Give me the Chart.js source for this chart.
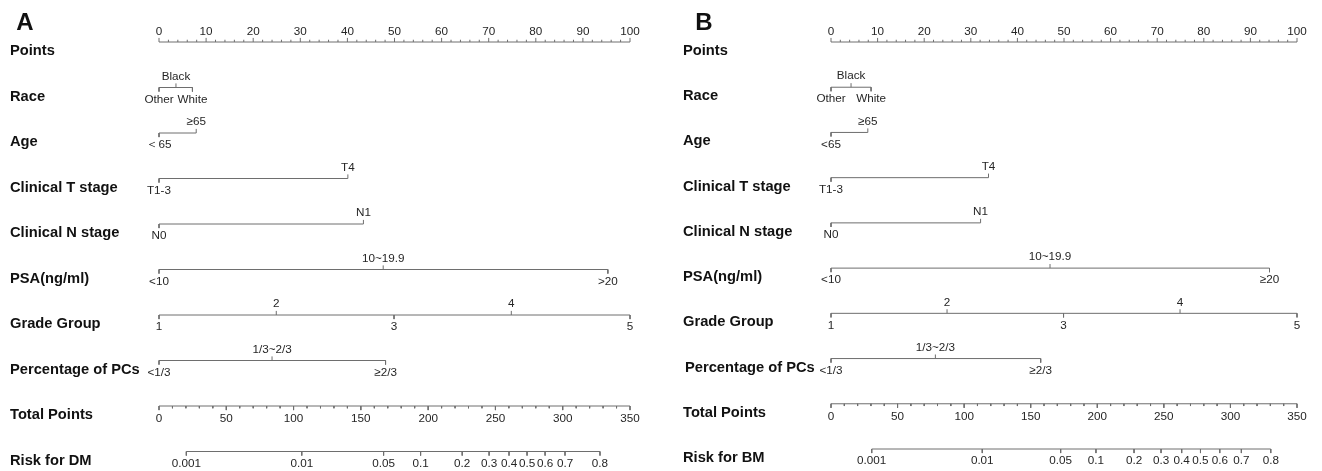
<!DOCTYPE html>
<html>
<head>
<meta charset="utf-8">
<script src="https://cdn.jsdelivr.net/npm/chart.js@4.4.0/dist/chart.umd.min.js"></script>
<style>
  body { margin: 0; background: #ffffff; }
  .wrap { display: flex; width: 1322px; height: 471px; }
  .panel { position: relative; width: 661px; height: 471px; }
</style>
</head>
<body>
<div class="wrap">
  <div class="panel"><canvas id="chartA" width="661" height="471"></canvas></div>
  <div class="panel"><canvas id="chartB" width="661" height="471"></canvas></div>
</div>
<script>
// Noms des lignes du nomogramme
const rowNames = ['Points', 'Race', 'Age', 'Clinical T stage', 'Clinical N stage',
  'PSA(ng/ml)', 'Grade Group', 'Percentage of PCs', 'Total Points'];

// Graduations des axes Points et Total Points
const pointTicks = [0, 10, 20, 30, 40, 50, 60, 70, 80, 90, 100];
const totalTicks = [0, 50, 100, 150, 200, 250, 300, 350];

// Niveaux de chaque variable
const raceLevels = ['Other', 'Black', 'White'];
const ageLevelsA = ['\uFF1C65', '\u226565'];
const ageLevelsB = ['<65', '\u226565'];
const tLevels = ['T1-3', 'T4'];
const nLevels = ['N0', 'N1'];
const psaLevelsA = ['<10', '10~19.9', '>20'];
const psaLevelsB = ['<10', '10~19.9', '\u226520'];
const gradeLevels = ['1', '2', '3', '4', '5'];
const pcsLevels = ['<1/3', '1/3~2/3', '\u22652/3'];

const racePtsA = [0, 3.6, 7.1];
const agePtsA = [0, 7.9];
const tPtsA = [0, 40.1];
const nPtsA = [0, 43.4];
const psaPtsA = [0, 47.6, 95.3];
const gradePtsA = [0, 24.9, 49.9, 74.8, 100];
const pcsPtsA = [0, 24.0, 48.1];

const racePtsB = [0, 4.3, 8.6];
const agePtsB = [0, 7.9];
const tPtsB = [0, 33.8];
const nPtsB = [0, 32.1];
const psaPtsB = [0, 47.0, 94.1];
const gradePtsB = [0, 24.9, 49.9, 74.9, 100];
const pcsPtsB = [0, 22.4, 45.0];

// Echelle de risque : étiquettes et position en Total Points
const riskLabels = ['0.001', '0.01', '0.05', '0.1', '0.2', '0.3', '0.4', '0.5', '0.6', '0.7', '0.8'];
const riskTotalA = [20.3, 106.1, 166.9, 194.4, 225.3, 245.3, 260.1, 273.5, 286.9, 301.7, 327.7];
const riskTotalB = [30.6, 113.6, 172.5, 199.0, 227.6, 247.9, 263.4, 277.5, 292.0, 308.2, 330.3];

const lineColor = '#6e6e6e';
const textColor = '#262626';
const tickLen = 0.09;   // en unités de ligne
const minorLen = 0.05;

// Construit une ligne + graduations (y null = coupure)
function segments(row, xs, dirs, lens) {
  const lo = Math.min(...xs), hi = Math.max(...xs);
  const pts = [{ x: lo, y: row }, { x: hi, y: row }, { x: hi, y: null }];
  xs.forEach((x, i) => {
    pts.push({ x: x, y: row }, { x: x, y: row + dirs[i] * lens[i] }, { x: x, y: null });
  });
  return pts;
}

function lineDataset(data, axis) {
  return {
    data: data,
    xAxisID: axis,
    showLine: true,
    spanGaps: false,
    borderColor: lineColor,
    borderWidth: 1,
    pointRadius: 0,
    clip: false
  };
}

function buildPanel(id, cfg) {
  const datasets = [];
  const labels = [];

  // Axe Points
  const minor = [];
  for (let v = 0; v <= 100; v += 2) minor.push(v);
  datasets.push(lineDataset(segments(0, minor, minor.map(() => -1),
    minor.map(v => v % 10 === 0 ? tickLen : minorLen)), 'x'));
  pointTicks.forEach(v => labels.push({ text: String(v), x: v, axis: 'x', row: 0, dy: -10 }));

  // Variables
  cfg.vars.forEach((vr, k) => {
    const row = k + 1;
    const dirs = vr.pts.map((p, i) => i % 2 === 0 ? 1 : -1);
    datasets.push(lineDataset(segments(row, vr.pts, dirs, vr.pts.map(() => tickLen)), 'x'));
    vr.levels.forEach((lv, i) => {
      labels.push({ text: lv, x: vr.pts[i], axis: 'x', row: row, dy: i % 2 === 0 ? 12 : -11 });
    });
  });

  // Total Points
  const tminor = [];
  for (let v = 0; v <= 350; v += 10) tminor.push(v);
  datasets.push(lineDataset(segments(8, tminor, tminor.map(() => 1),
    tminor.map(v => v % 50 === 0 ? tickLen : minorLen)), 'xt'));
  totalTicks.forEach(v => labels.push({ text: String(v), x: v, axis: 'xt', row: 8, dy: 13 }));

  // Risque
  datasets.push(lineDataset(segments(9, cfg.risk, cfg.risk.map(() => 1), cfg.risk.map(() => tickLen)), 'xt'));
  riskLabels.forEach((t, i) => labels.push({ text: t, x: cfg.risk[i], axis: 'xt', row: 9, dy: 12 }));

  const textPlugin = {
    id: 'nomoText',
    afterDatasetsDraw(chart) {
      const ctx = chart.ctx;
      const y = chart.scales.y;
      ctx.save();
      ctx.textBaseline = 'middle';
      // étiquettes des graduations
      ctx.fillStyle = textColor;
      ctx.font = '11.7px "Liberation Sans", Arial, sans-serif';
      ctx.textAlign = 'center';
      labels.forEach(l => {
        ctx.fillText(l.text, chart.scales[l.axis].getPixelForValue(l.x), y.getPixelForValue(l.row) + l.dy);
      });
      // titres des lignes
      ctx.fillStyle = '#111111';
      ctx.font = 'bold 14.7px "Liberation Sans", Arial, sans-serif';
      ctx.textAlign = 'left';
      cfg.rowNames.forEach((name, r) => {
        const x = (r === 7) ? cfg.titleX + cfg.pcsShift : cfg.titleX;
        ctx.fillText(name, x, y.getPixelForValue(r) + 9);
      });
      // lettre du panneau
      ctx.font = 'bold 24px "Liberation Sans", Arial, sans-serif';
      ctx.textAlign = 'center';
      ctx.fillText(cfg.letter, cfg.letterX, 23);
      ctx.restore();
    }
  };

  const ctx = document.getElementById(id).getContext('2d');
  return new Chart(ctx, {
    type: 'scatter',
    data: { datasets: datasets },
    options: {
      responsive: false,
      animation: false,
      layout: { padding: cfg.padding },
      scales: {
        x: { type: 'linear', min: 0, max: 100, display: false },
        xt: { type: 'linear', axis: 'x', min: 0, max: 350, display: false },
        y: { type: 'linear', min: 0, max: 9, reverse: true, display: false }
      },
      plugins: { legend: { display: false }, tooltip: { enabled: false } }
    },
    plugins: [textPlugin]
  });
}

buildPanel('chartA', {
  letter: 'A', letterX: 25, titleX: 10, pcsShift: 0,
  padding: { left: 159, right: 31, top: 42, bottom: 19.5 },
  rowNames: rowNames.concat(['Risk for DM']),
  risk: riskTotalA,
  vars: [
    { levels: raceLevels, pts: racePtsA },
    { levels: ageLevelsA, pts: agePtsA },
    { levels: tLevels, pts: tPtsA },
    { levels: nLevels, pts: nPtsA },
    { levels: psaLevelsA, pts: psaPtsA },
    { levels: gradeLevels, pts: gradePtsA },
    { levels: pcsLevels, pts: pcsPtsA }
  ]
});

buildPanel('chartB', {
  letter: 'B', letterX: 43, titleX: 22, pcsShift: 2,
  padding: { left: 170, right: 25, top: 42, bottom: 22 },
  rowNames: rowNames.concat(['Risk for BM']),
  risk: riskTotalB,
  vars: [
    { levels: raceLevels, pts: racePtsB },
    { levels: ageLevelsB, pts: agePtsB },
    { levels: tLevels, pts: tPtsB },
    { levels: nLevels, pts: nPtsB },
    { levels: psaLevelsB, pts: psaPtsB },
    { levels: gradeLevels, pts: gradePtsB },
    { levels: pcsLevels, pts: pcsPtsB }
  ]
});
</script>
</body>
</html>
